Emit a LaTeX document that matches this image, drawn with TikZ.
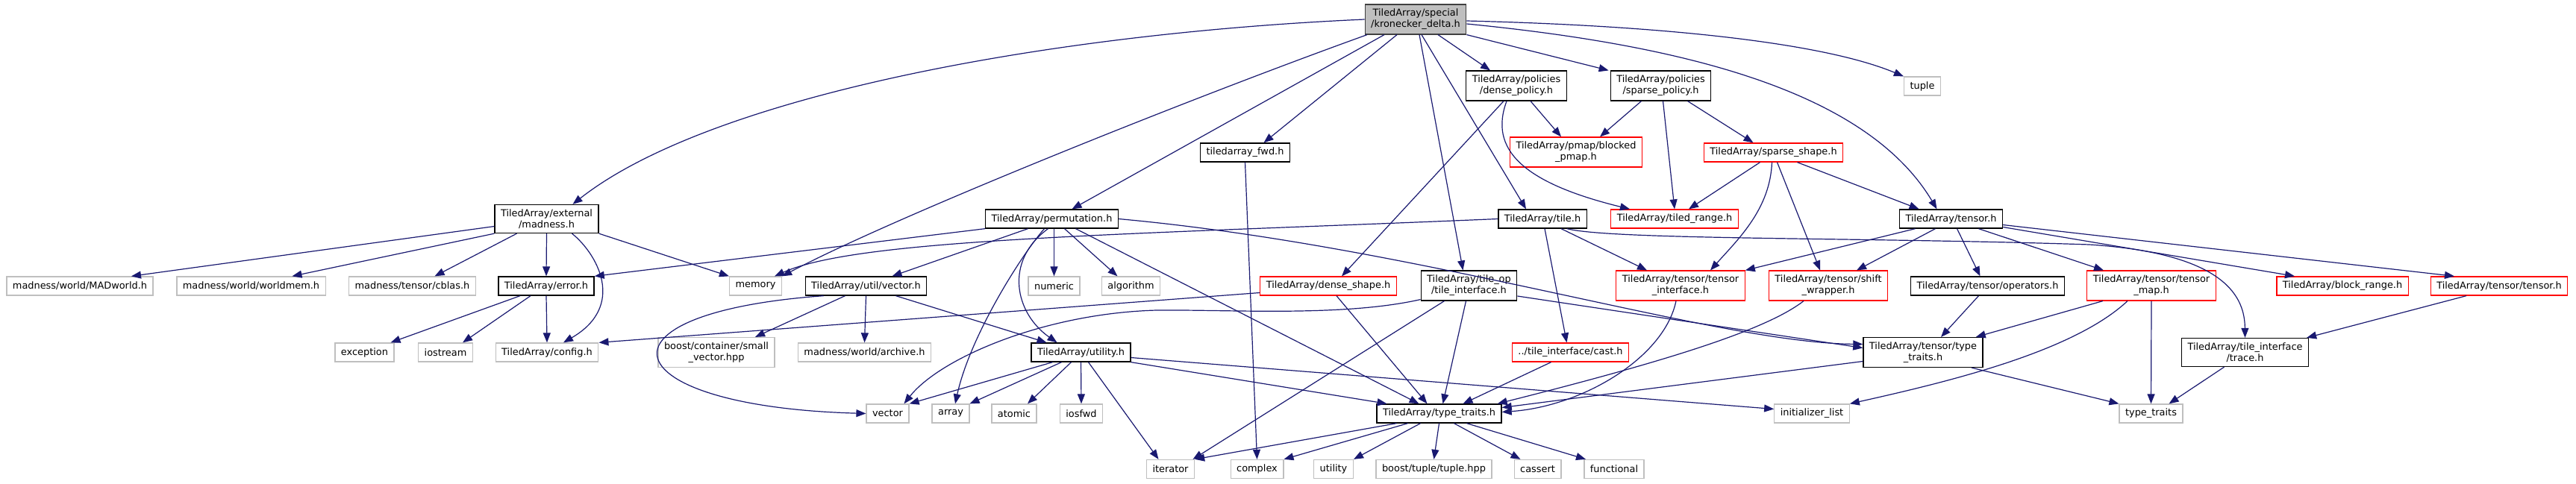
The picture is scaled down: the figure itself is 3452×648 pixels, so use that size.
\documentclass[tikz,border=0pt]{standalone}
\usepackage{fontspec}
\setmainfont{DejaVu Sans}
\usetikzlibrary{arrows.meta}
\definecolor{edgeblue}{HTML}{191970}
\definecolor{boxgray}{HTML}{BFBFBF}
\definecolor{boxred}{HTML}{FF0000}

\begin{document}
\begin{tikzpicture}[x=1pt, y=-1pt,
  every node/.style={align=center, font=\fontsize{12.9}{15}\selectfont, inner xsep=8pt, inner ysep=6pt, minimum height=25pt, line width=1.3pt},
  docfile/.style={draw=black, fill=white},
  cutfile/.style={draw=boxred, fill=white},
  sysfile/.style={draw=boxgray, fill=white},
  thisfile/.style={draw=black!75, fill=boxgray},
  inc/.style={draw=edgeblue, line width=1.2pt, -{Triangle[length=13pt, width=10pt]}}]
  \useasboundingbox (0,0) rectangle (3452,648);

  % Top: the file itself and what it includes directly
  \node[thisfile] (kd) at (1897,26) {TiledArray/special\\/kronecker\_delta.h};
  \node[docfile] (densepol) at (2032,115) {TiledArray/policies\\/dense\_policy.h};
  \node[docfile] (sparsepol) at (2225.5,115) {TiledArray/policies\\/sparse\_policy.h};
  \node[sysfile] (tuple) at (2576,115.5) {tuple};
  \node[docfile] (fwd) at (1668.5,204.5) {tiledarray\_fwd.h};
  \node[cutfile] (pmap) at (2112,204) {TiledArray/pmap/blocked\\\_pmap.h};
  \node[cutfile] (sparseshape) at (2376.5,204.5) {TiledArray/sparse\_shape.h};
  \node[docfile] (madness) at (732.5,293.5) {TiledArray/external\\/madness.h};
  \node[docfile] (perm) at (1409.5,293.5) {TiledArray/permutation.h};
  \node[docfile] (tile) at (2067,293.5) {TiledArray/tile.h};
  \node[cutfile] (tiledrange) at (2244,293.5) {TiledArray/tiled\_range.h};
  \node[docfile] (tensor) at (2614.5,293.5) {TiledArray/tensor.h};

  % Middle rows
  \node[sysfile] (madworld) at (107,383.5) {madness/world/MADworld.h};
  \node[sysfile] (worldmem) at (336.5,383.5) {madness/world/worldmem.h};
  \node[sysfile] (cblas) at (552.5,383.5) {madness/tensor/cblas.h};
  \node[docfile] (error) at (732,383.5) {TiledArray/error.h};
  \node[sysfile] (memory) at (1012.5,383.5) {memory};
  \node[docfile] (utilvec) at (1160.5,383.5) {TiledArray/util/vector.h};
  \node[sysfile] (numeric) at (1412.5,383.5) {numeric};
  \node[sysfile] (algorithm) at (1515.5,383.5) {algorithm};
  \node[cutfile] (denseshape) at (1780,383.5) {TiledArray/dense\_shape.h};
  \node[docfile] (tileop) at (1968.5,383) {TiledArray/tile\_op\\/tile\_interface.h};
  \node[cutfile] (tensorif) at (2252,383) {TiledArray/tensor/tensor\\\_interface.h};
  \node[cutfile] (shiftwrap) at (2450,383) {TiledArray/tensor/shift\\\_wrapper.h};
  \node[docfile] (operators) at (2663.5,383.5) {TiledArray/tensor/operators.h};
  \node[cutfile] (tensormap) at (2883,383) {TiledArray/tensor/tensor\\\_map.h};
  \node[cutfile] (blockrange) at (3139,383.5) {TiledArray/block\_range.h};
  \node[cutfile] (tensortensor) at (3349,383.5) {TiledArray/tensor/tensor.h};

  \node[sysfile] (exception) at (488.5,472.5) {exception};
  \node[sysfile] (iostream) at (597,472.5) {iostream};
  \node[sysfile] (config) at (733,472.5) {TiledArray/config.h};
  \node[sysfile] (smallvec) at (960,472.5) {boost/container/small\\\_vector.hpp};
  \node[sysfile] (archive) at (1158.5,472.5) {madness/world/archive.h};
  \node[docfile] (utility) at (1448.5,472.5) {TiledArray/utility.h};
  \node[cutfile] (cast) at (2104.5,472.5) {../tile\_interface/cast.h};
  \node[docfile] (tenstraits) at (2577,472.5) {TiledArray/tensor/type\\\_traits.h};
  \node[docfile] (trace) at (3008.5,472.5) {TiledArray/tile\_interface\\/trace.h};

  % Bottom rows
  \node[sysfile] (vector) at (1189.5,554.5) {vector};
  \node[sysfile] (array) at (1274,554.5) {array};
  \node[sysfile] (atomic) at (1359,554.5) {atomic};
  \node[sysfile] (iosfwd) at (1449,554.5) {iosfwd};
  \node[docfile] (tth) at (1928.5,554.5) {TiledArray/type\_traits.h};
  \node[sysfile] (initlist) at (2428,554.5) {initializer\_list};
  \node[sysfile] (stdtraits) at (2882.5,554.5) {type\_traits};

  \node[sysfile] (iterator) at (1568.5,629) {iterator};
  \node[sysfile] (complex) at (1684.5,629) {complex};
  \node[sysfile] (stdutility) at (1787,629) {utility};
  \node[sysfile] (boosttuple) at (1921.5,629) {boost/tuple/tuple.hpp};
  \node[sysfile] (cassert) at (2060.5,629) {cassert};
  \node[sysfile] (functional) at (2163,629) {functional};

  % Includes of kronecker_delta.h
  \draw[inc] (kd.west) .. controls (1400,45) and (950,130) .. ([xshift=35]madness.north);
  \draw[inc] ([xshift=-65]kd.south) .. controls (1600,130) and (1200,290) .. (memory.north east);
  \draw[inc] ([xshift=-42]kd.south) -- ([xshift=27]perm.north);
  \draw[inc] ([xshift=-25]kd.south) -- ([xshift=25]fwd.north);
  \draw[inc] ([xshift=5]kd.south) -- ([xshift=-8]tileop.north);
  \draw[inc] ([xshift=8]kd.south) -- ([xshift=-22]tile.north);
  \draw[inc] ([xshift=30]kd.south) -- ([xshift=-35]densepol.north);
  \draw[inc] (kd.south east) -- ([xshift=-2]sparsepol.north west);
  \draw[inc] ([yshift=-2]kd.east) .. controls (2250,35) and (2450,60) .. (tuple.north west);
  \draw[inc] ([yshift=-6]kd.east) .. controls (2250,60) and (2500,120) .. ([xshift=-19]tensor.north);

  % Policies and shapes
  \draw[inc] ([xshift=19]densepol.south) -- ([xshift=-20]pmap.north);
  \draw[inc] ([xshift=-13]densepol.south) .. controls (1995,200) and (2040,245) .. ([xshift=-60]tiledrange.north);
  \draw[inc] ([xshift=-17]densepol.south) -- ([xshift=18]denseshape.north);
  \draw[inc] ([xshift=-26]sparsepol.south) -- ([xshift=32]pmap.north);
  \draw[inc] ([xshift=3]sparsepol.south) -- (tiledrange.north);
  \draw[inc] ([xshift=36]sparsepol.south) -- ([xshift=-27]sparseshape.north);
  \draw[inc] ([xshift=-18]sparseshape.south) -- ([xshift=19]tiledrange.north);
  \draw[inc] ([xshift=-2]sparseshape.south) .. controls (2372,280) and (2330,320) .. ([xshift=40]tensorif.north);
  \draw[inc] ([xshift=5]sparseshape.south) -- ([xshift=-11]shiftwrap.north);
  \draw[inc] ([xshift=32]sparseshape.south) -- ([xshift=-43]tensor.north);
  \draw[inc] (fwd.south) -- (complex.north);

  % permutation.h
  \draw[inc] (perm.south west) -- (error.north east);
  \draw[inc] ([xshift=-32]perm.south) -- ([xshift=35]utilvec.north);
  \draw[inc] ([xshift=-10]perm.south) .. controls (1370,340) and (1300,450) .. ([xshift=6]array.north);
  \draw[inc] ([xshift=-5]perm.south) .. controls (1345,350) and (1360,420) .. ([xshift=-32]utility.north);
  \draw[inc] ([xshift=3]perm.south) -- (numeric.north);
  \draw[inc] ([xshift=17]perm.south) -- ([xshift=-18]algorithm.north);
  \draw[inc] ([xshift=32]perm.south) -- ([xshift=-27]tth.north);
  \draw[inc] (perm.east) .. controls (1900,330) and (2300,460) .. ([yshift=11]tenstraits.west);

  % madness.h and error.h
  \draw[inc] ([yshift=-10]madness.west) -- ([xshift=69]madworld.north);
  \draw[inc] (madness.south west) -- ([xshift=55]worldmem.north);
  \draw[inc] ([xshift=-40]madness.south) -- ([xshift=30]cblas.north);
  \draw[inc] (madness.south) -- (error.north);
  \draw[inc] ([xshift=34]madness.south) .. controls (800,340) and (840,410) .. ([xshift=22]config.north);
  \draw[inc] (madness.south east) -- (memory.north west);
  \draw[inc] ([xshift=-35]error.south) -- ([xshift=35]exception.north);
  \draw[inc] ([xshift=-21]error.south) -- ([xshift=23]iostream.north);
  \draw[inc] (error.south) -- (config.north);

  % util/vector.h and dense_shape.h
  \draw[inc] (utilvec.south) -- (archive.north);
  \draw[inc] ([xshift=40]utilvec.south) -- ([xshift=-46]utility.north);
  \draw[inc] ([xshift=-28]utilvec.south) -- ([xshift=52]smallvec.north);
  \draw[inc] ([xshift=25]utilvec.south west) .. controls (780,420) and (820,545) .. (vector.west);
  \draw[inc] ([yshift=-9]denseshape.west) -- (config.north east);
  \draw[inc] ([xshift=11]denseshape.south) -- ([xshift=-16]tth.north);

  % tile.h and tile_interface.h
  \draw[inc] (tile.west) .. controls (1500,315) and (1150,320) .. ([xshift=-10]memory.north east);
  \draw[inc] ([xshift=25]tile.south) -- ([xshift=-45]tensorif.north);
  \draw[inc] ([xshift=3]tile.south) -- ([xshift=-5]cast.north);
  \draw[inc] ([xshift=-27]tile.south east) .. controls (2160,322) and (2500,318) .. (2800,328) .. controls (2985,340) and (3008,400) .. (trace.north);
  \draw[inc] ([xshift=-33]tileop.south) -- ([xshift=30]iterator.north);
  \draw[inc] ([xshift=-4]tileop.south) -- ([xshift=5]tth.north);
  \draw[inc] ([yshift=-14]tileop.east) -- ([yshift=6]tenstraits.west);
  \draw[inc] ([yshift=2]tileop.south west) .. controls (1800,425) and (1650,415) .. (1550,416) .. controls (1400,420) and (1260,480) .. ([xshift=22]vector.north);
  \draw[inc] ([xshift=-26]cast.south) -- ([xshift=32]tth.north);

  % tensor headers
  \draw[inc] ([xshift=-6]tensorif.south) .. controls (2230,480) and (2120,545) .. ([yshift=2]tth.east);
  \draw[inc] ([xshift=-33]shiftwrap.south) .. controls (2370,440) and (2250,480) .. ([xshift=-6]tth.north east);
  \draw[inc] ([xshift=-48]tensor.south) -- (tensorif.north east);
  \draw[inc] ([xshift=-21]tensor.south) -- ([xshift=38]shiftwrap.north);
  \draw[inc] ([xshift=8]tensor.south) -- ([xshift=-10]operators.north);
  \draw[inc] ([xshift=37]tensor.south) -- ([xshift=-64]tensormap.north);
  \draw[inc] ([yshift=-11]tensor.east) -- ([xshift=-64]blockrange.north);
  \draw[inc] ([yshift=-8]tensor.east) -- ([xshift=-60]tensortensor.north);
  \draw[inc] ([xshift=-12]operators.south) -- ([xshift=24]tenstraits.north);
  \draw[inc] ([xshift=-65]tensormap.south) -- ([xshift=-10]tenstraits.north east);
  \draw[inc] ([xshift=-32]tensormap.south) .. controls (2780,470) and (2620,510) .. (initlist.north east);
  \draw[inc] (tensormap.south) -- (stdtraits.north);
  \draw[inc] ([xshift=65]tenstraits.south) -- (stdtraits.north west);
  \draw[inc] ([yshift=-12]tenstraits.west) -- ([yshift=8]tth.east);
  \draw[inc] ([xshift=-28]trace.south) -- ([xshift=24]stdtraits.north);
  \draw[inc] ([xshift=-44]tensortensor.south) -- ([xshift=-3]trace.north east);

  % utility.h
  \draw[inc] ([xshift=-38]utility.south) -- (vector.north east);
  \draw[inc] ([xshift=-26]utility.south) -- (array.north east);
  \draw[inc] ([xshift=-13]utility.south) -- ([xshift=18]atomic.north);
  \draw[inc] (utility.south) -- (iosfwd.north);
  \draw[inc] ([xshift=10]utility.south) -- ([xshift=-16]iterator.north);
  \draw[inc] (utility.south east) -- ([xshift=-70]tth.north);
  \draw[inc] ([yshift=-7]utility.east) -- ([yshift=6]initlist.west);

  % type_traits.h
  \draw[inc] ([xshift=-57]tth.south) -- (iterator.north east);
  \draw[inc] ([xshift=-42]tth.south) -- (complex.north east);
  \draw[inc] ([xshift=-25]tth.south) -- (stdutility.north east);
  \draw[inc] (tth.south) -- (boosttuple.north);
  \draw[inc] ([xshift=20]tth.south) -- ([xshift=-23]cassert.north);
  \draw[inc] ([xshift=37]tth.south) -- ([xshift=-38]functional.north);
\end{tikzpicture}
\end{document}
